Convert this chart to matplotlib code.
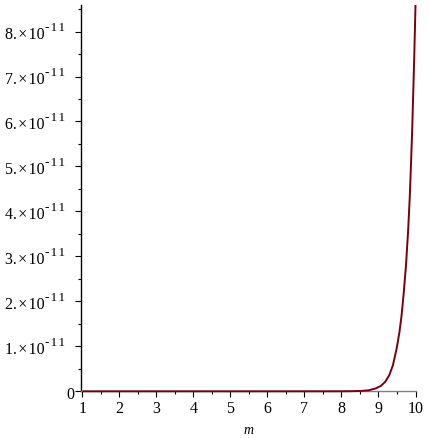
import matplotlib
matplotlib.use("Agg")
import matplotlib.pyplot as plt
from matplotlib.ticker import MultipleLocator
import matplotlib.transforms as mtransforms

# values (y in units of 1e-11)
m_vals = [1, 2, 3, 4, 5, 6, 7, 8, 8.3, 8.55, 8.73, 8.91, 9.065, 9.18, 9.29,
          9.39, 9.49, 9.565, 9.62, 9.68, 9.745, 9.80, 9.845, 9.875, 9.91,
          9.965, 10]
y_vals_e11 = [0, 0, 0, 0, 0, 0, 0, 0.0005, 0.003, 0.01, 0.022, 0.06, 0.12,
              0.21, 0.356, 0.58, 0.95, 1.31, 1.66, 2.17, 2.82, 3.56, 4.32,
              4.98, 5.80, 7.40, 8.59]
y_ticks = [0, 1, 2, 3, 4, 5, 6, 7, 8]
x_ticks = [1, 2, 3, 4, 5, 6, 7, 8, 9, 10]
exp_label = '-11'

plt.rcParams['font.family'] = ['Liberation Serif', 'DejaVu Serif']

W, H = 430, 439
fig = plt.figure(figsize=(W / 100, H / 100), dpi=100)
ax = fig.add_axes([80.7 / W, 46.7 / H, (415.5 - 80.7) / W, (433 - 46.7) / H])

ys = [v * 1e-11 for v in y_vals_e11]
ax.plot(m_vals, ys, color='#78000E', lw=1.4, solid_capstyle='butt',
        solid_joinstyle='round', zorder=3, clip_on=False)

ax.set_xlim(0.955, 10)
ax.set_ylim(0, 8.59e-11)

for s in ['top', 'right']:
    ax.spines[s].set_visible(False)
ax.spines['left'].set_color('black')
ax.spines['bottom'].set_color('#808080')
ax.spines['left'].set_linewidth(1.0)
ax.spines['bottom'].set_linewidth(1.0)

ax.set_xticks(x_ticks)
ax.xaxis.set_minor_locator(MultipleLocator(0.5))
ax.set_yticks([t * 1e-11 for t in y_ticks])
ax.set_yticklabels([])
ax.yaxis.set_minor_locator(MultipleLocator(0.5e-11))

ax.tick_params(axis='both', which='major', length=4, width=0.8, labelsize=11.5,
               color='black', pad=2)
ax.tick_params(axis='both', which='minor', length=2.5, width=0.8, color='black')

# y tick labels drawn as "n. × 10" plus a raised exponent
trans = mtransforms.blended_transform_factory(ax.transAxes, ax.transData)
px = 72 / 100  # points per pixel
hs = '\u200a'
for t in y_ticks:
    yv = t * 1e-11
    if t == 0:
        ax.annotate('0', xy=(0, yv), xycoords=trans,
                    xytext=(-6.5 * px, -7.0 * px), textcoords='offset points',
                    ha='right', va='baseline', fontsize=11.5, annotation_clip=False)
        continue
    ax.annotate('%d.\u200a\u00d7\u200a10' % t, xy=(0, yv), xycoords=trans,
                xytext=(-36.5 * px, -6.8 * px), textcoords='offset points',
                ha='right', va='baseline', fontsize=11.5, annotation_clip=False)
    ax.annotate(hs.join(exp_label), xy=(0, yv), xycoords=trans,
                xytext=(-35.5 * px, 1.4 * px), textcoords='offset points',
                ha='left', va='baseline', fontsize=9.5, annotation_clip=False)

ax.set_xlabel('m', fontstyle='italic', fontsize=10, labelpad=5)

fig.savefig('out.png', dpi=100)
